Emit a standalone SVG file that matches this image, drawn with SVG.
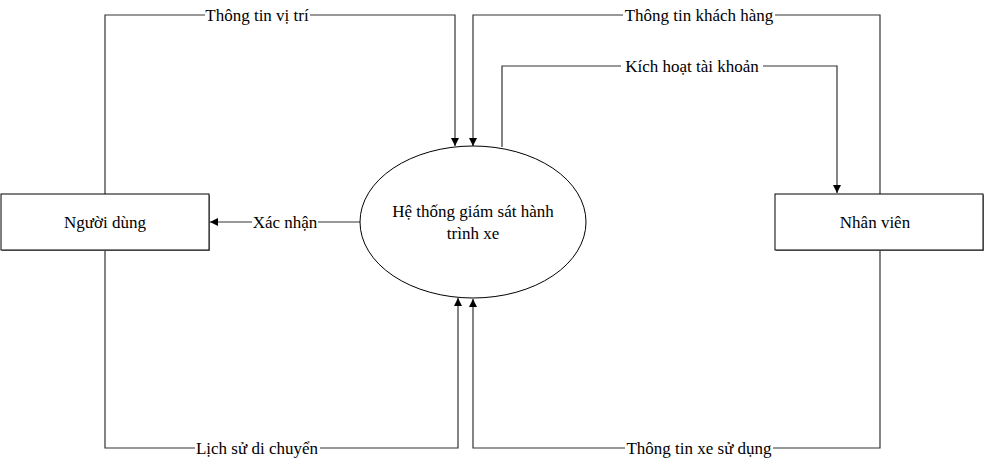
<svg xmlns="http://www.w3.org/2000/svg" width="984" height="467" viewBox="0 0 984 467">
<defs>
<marker id="arr" viewBox="0 0 10 10" refX="10" refY="5" markerWidth="8" markerHeight="8" markerUnits="userSpaceOnUse" orient="auto">
<path d="M0,0 L10,5 L0,10 z" fill="#000"/>
</marker>
<style>
.t{font-family:"Liberation Serif","Times New Roman",serif;font-size:17px;fill:#000;text-anchor:middle}
.ln{fill:none;stroke:#333;stroke-width:1.2}
.bg{fill:#fff}
.box{fill:#fff;stroke:#000;stroke-width:1}
.sh{fill:#888}
</style>
</defs>
<rect width="984" height="467" fill="#fff"/>
<g id="connectors">
<path class="ln" d="M105,194 V15 H455 V146" marker-end="url(#arr)"/>
<path class="ln" d="M880,194 V15 H473 V146" marker-end="url(#arr)"/>
<path class="ln" d="M502,147 V66 H837 V193" marker-end="url(#arr)"/>
<path class="ln" d="M360,222 H210" marker-end="url(#arr)"/>
<path class="ln" d="M105,250 V448 H458 V298" marker-end="url(#arr)"/>
<path class="ln" d="M880,250 V448 H473 V299" marker-end="url(#arr)"/>
<rect class="bg" x="205" y="6" width="105" height="18"/>
<text class="t" x="257" y="21">Thông tin vị trí</text>
<rect class="bg" x="623" y="6" width="152" height="18"/>
<text class="t" x="699" y="21">Thông tin khách hàng</text>
<rect class="bg" x="621" y="57" width="142" height="18"/>
<text class="t" x="692" y="72">Kích hoạt tài khoản</text>
<rect class="bg" x="252" y="213" width="66" height="18"/>
<text class="t" x="285" y="228">Xác nhận</text>
<rect class="bg" x="195" y="439" width="125" height="18"/>
<text class="t" x="257" y="454">Lịch sử di chuyển</text>
<rect class="bg" x="625" y="439" width="148" height="18"/>
<text class="t" x="699" y="454">Thông tin xe sử dụng</text>
</g>
<g id="node-nguoidung">
<rect class="sh" x="2" y="195" width="208" height="56"/>
<rect class="box" x="1" y="194" width="208" height="56"/>
<text class="t" x="105" y="228">Người dùng</text>
</g>
<g id="node-nhanvien">
<rect class="sh" x="776" y="195" width="208" height="56"/>
<rect class="box" x="775" y="194" width="208" height="56"/>
<text class="t" x="875" y="228">Nhân viên</text>
</g>
<g id="node-hethong">
<ellipse cx="473" cy="222" rx="113" ry="76" fill="#fff" stroke="#000" stroke-width="1"/>
<text class="t" x="473" y="217">Hệ thống giám sát hành</text>
<text class="t" x="473" y="239">trình xe</text>
</g>
</svg>
